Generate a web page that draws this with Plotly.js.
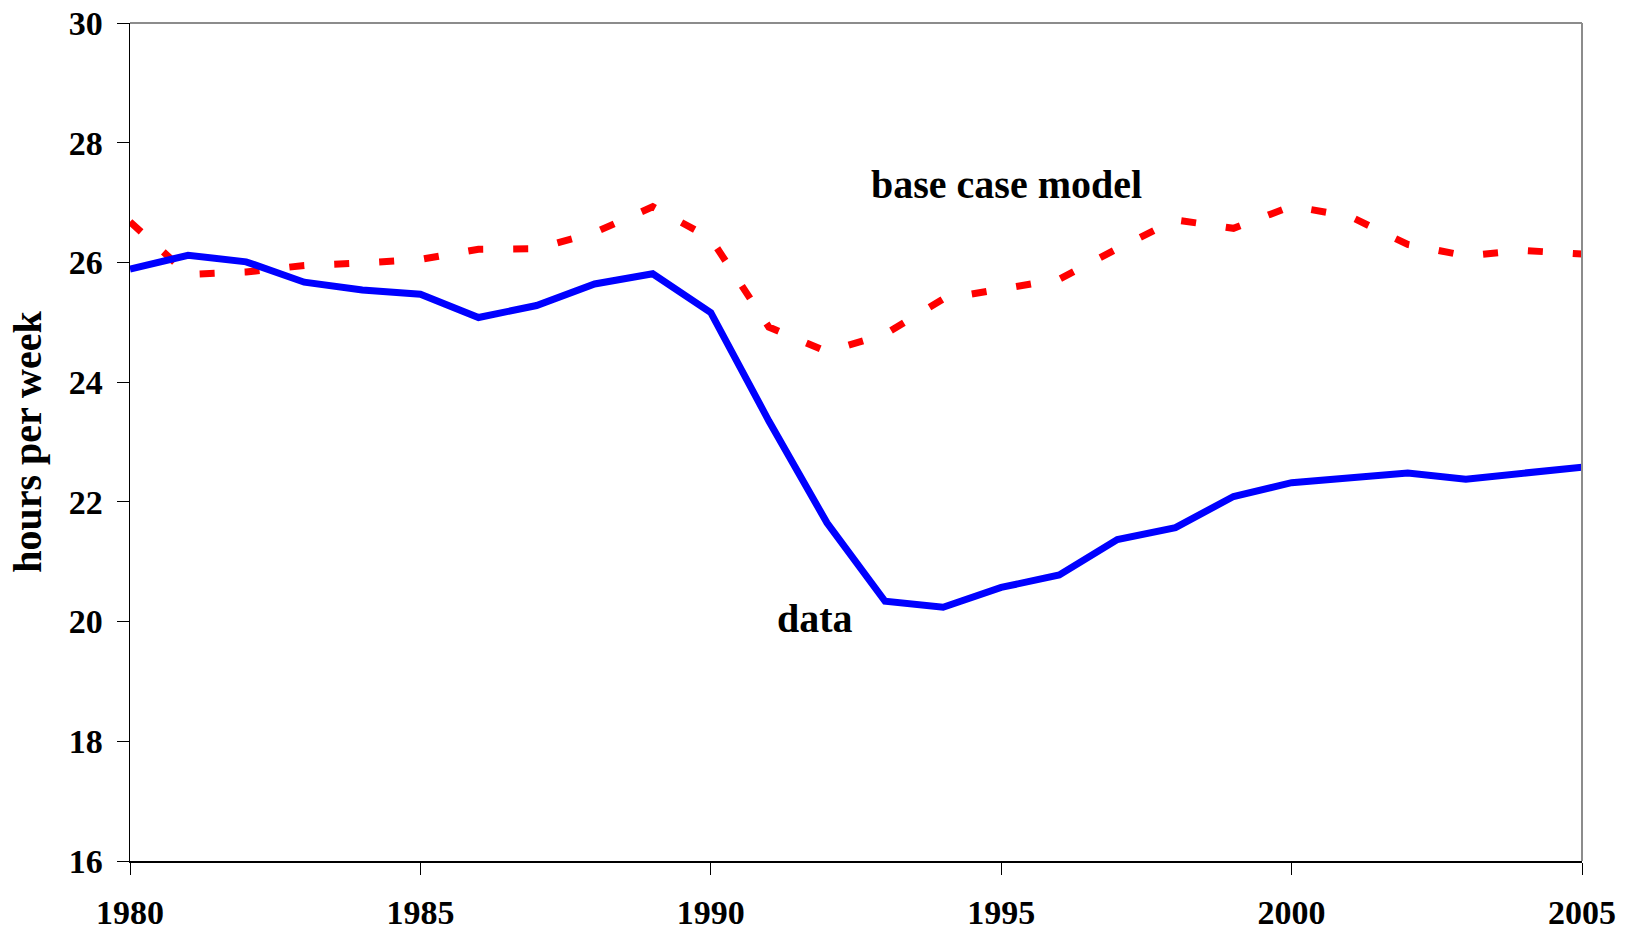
<!DOCTYPE html>
<html>
<head>
<meta charset="utf-8">
<script src="https://cdn.plot.ly/plotly-3.0.1.min.js"></script>
<style>html,body{margin:0;padding:0;background:#fff;}#chart{width:1627px;height:931px;}</style>
</head>
<body>
<div id="chart"></div>
<script>
const years = [1980,1981,1982,1983,1984,1985,1986,1987,1988,1989,1990,1991,1992,1993,1994,1995,1996,1997,1998,1999,2000,2001,2002,2003,2004,2005];
const dataSeries = [25.89,26.12,26.01,25.67,25.54,25.47,25.08,25.28,25.64,25.81,25.16,23.35,21.65,20.34,20.24,20.57,20.78,21.37,21.57,22.09,22.32,22.39,22.48,22.38,22.48,22.58];
const modelSeries = [26.68,25.80,25.84,25.95,25.99,26.05,26.22,26.23,26.50,26.93,26.40,24.92,24.51,24.80,25.39,25.56,25.72,26.23,26.71,26.57,26.94,26.77,26.30,26.11,26.20,26.14];
const xTicks = [1980,1985,1990,1995,2000,2005];
const yTicks = [16,18,20,22,24,26,28,30];
const yTitle = "hours per week";
const labelModel = "base case model";
const labelData = "data";

const font = "'Liberation Serif', 'Times New Roman', serif";

const traces = [
  {x: years, y: modelSeries, type: 'scatter', mode: 'lines', name: labelModel,
   line: {color: '#ff0000', width: 7, dash: '15px,30px'}},
  {x: years, y: dataSeries, type: 'scatter', mode: 'lines', name: labelData,
   line: {color: '#0000ff', width: 7}}
];

const layout = {
  width: 1627, height: 931,
  margin: {l: 130, r: 45, t: 23, b: 70},
  paper_bgcolor: '#fff', plot_bgcolor: '#fff',
  showlegend: false,
  font: {family: font, color: '#000'},
  xaxis: {
    range: [1980, 2005], tickvals: xTicks, ticktext: xTicks.map(String),
    showgrid: false, zeroline: false, showline: true, linecolor: '#000', linewidth: 1.5,
    ticks: 'outside', ticklen: 12, tickwidth: 1, tickcolor: '#000',
    tickfont: {family: font, size: 34, color: '#000', weight: 'bold'},
    ticklabelstandoff: 9
  },
  yaxis: {
    range: [16, 30], tickvals: yTicks, ticktext: yTicks.map(String),
    showgrid: false, zeroline: false, showline: true, linecolor: '#000', linewidth: 1.5,
    ticks: 'outside', ticklen: 12, tickwidth: 1, tickcolor: '#000',
    tickfont: {family: font, size: 34, color: '#000', weight: 'bold'},
    ticklabelstandoff: 7,
    title: {text: yTitle, font: {family: font, size: 40, color: '#000', weight: 'bold'}, standoff: 14}
  },
  shapes: [
    {type: 'line', xref: 'paper', yref: 'paper', x0: 0, x1: 1, y0: 1, y1: 1, line: {color: '#8c8c8c', width: 2}},
    {type: 'line', xref: 'paper', yref: 'paper', x0: 1, x1: 1, y0: 0, y1: 1, line: {color: '#8c8c8c', width: 2}}
  ],
  annotations: [
    {x: 1995.09, y: 27.30, xref: 'x', yref: 'y', text: '<b>' + labelModel + '</b>', showarrow: false,
     font: {family: font, size: 40, color: '#000'}},
    {x: 1991.79, y: 20.05, xref: 'x', yref: 'y', text: '<b>' + labelData + '</b>', showarrow: false,
     font: {family: font, size: 40, color: '#000'}}
  ]
};

Plotly.newPlot('chart', traces, layout, {displayModeBar: false, staticPlot: true});
</script>
</body>
</html>
